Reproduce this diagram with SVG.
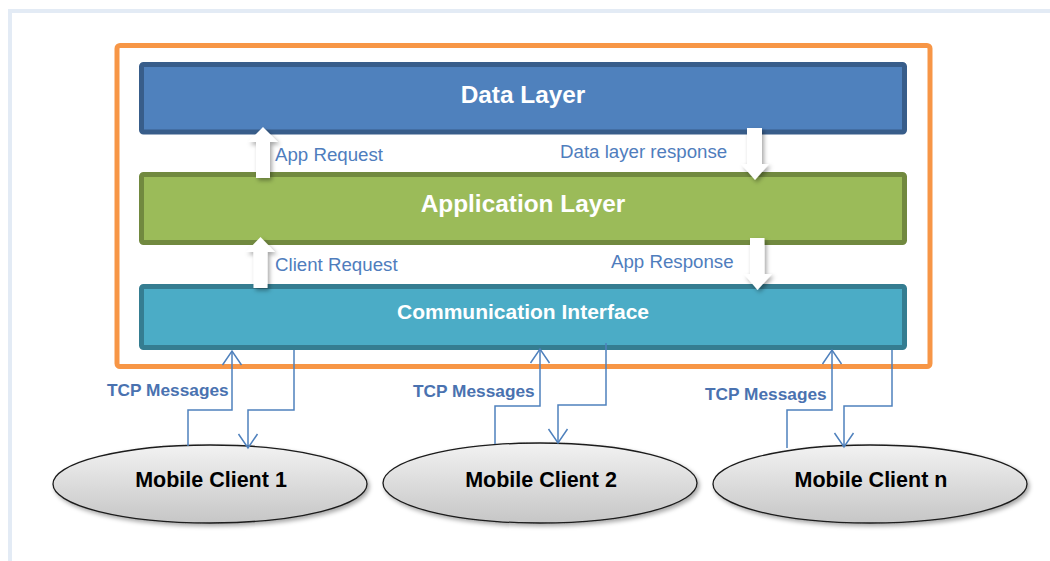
<svg xmlns="http://www.w3.org/2000/svg" width="1050" height="561" viewBox="0 0 1050 561">
  <defs>
    <style>
      .layer-title { font-family: "Liberation Sans", Arial, sans-serif; font-weight: bold; fill: #ffffff; text-anchor: middle; }
      .flow-label { font-family: "Liberation Sans", Arial, sans-serif; font-size: 18.7px; fill: #4f7dbd; }
      .tcp-label { font-family: "Liberation Sans", Arial, sans-serif; font-size: 17.3px; font-weight: bold; fill: #4a72b0; }
      .client-label { font-family: "Liberation Sans", Arial, sans-serif; font-size: 21.5px; font-weight: bold; fill: #000000; text-anchor: middle; }
      .block-arrow { fill: #ffffff; filter: url(#soft-shadow); }
      .tcp-line { fill: none; stroke: #4f81bd; stroke-width: 1.5; }
      .client-shape { fill: url(#client-fill); stroke: #1a1a1a; stroke-width: 1.3; filter: url(#soft-shadow); }
    </style>
    <linearGradient id="client-fill" x1="0" y1="0" x2="0" y2="1">
      <stop offset="0" stop-color="#f2f2f2"/>
      <stop offset="1" stop-color="#c6c6c6"/>
    </linearGradient>
    <filter id="soft-shadow" x="-20%" y="-20%" width="140%" height="150%">
      <feDropShadow dx="2" dy="2.5" stdDeviation="2" flood-color="#000000" flood-opacity="0.35"/>
    </filter>
    <marker id="open-head" viewBox="-16 -11 18 22" refX="0" refY="0" markerWidth="18" markerHeight="22" markerUnits="userSpaceOnUse" orient="auto" overflow="visible">
      <path d="M-14,-9.5 L0,0 L-14,9.5" fill="none" stroke="#4f81bd" stroke-width="1.5"/>
    </marker>
  </defs>

  <rect width="1050" height="561" fill="#ffffff"/>

  <!-- page edge band -->
  <path d="M10,561 V11 H1050" fill="none" stroke="#e3ebf5" stroke-width="4"/>

  <!-- server boundary -->
  <g id="server-frame">
    <rect x="117" y="45.5" width="813" height="321" rx="3" fill="none" stroke="#f79646" stroke-width="5"/>
  </g>

  <g id="data-layer">
    <rect x="141.5" y="64.5" width="763" height="67.5" rx="2" fill="#4f81bd" stroke="#385d8a" stroke-width="5"/>
    <text class="layer-title" x="523" y="103" font-size="24.4">Data Layer</text>
  </g>

  <g id="application-layer">
    <rect x="141.5" y="174.5" width="763" height="68" rx="2" fill="#9bbb59" stroke="#71893f" stroke-width="5"/>
    <text class="layer-title" x="523" y="212" font-size="24.4">Application Layer</text>
  </g>

  <g id="communication-interface">
    <rect x="141.5" y="286.5" width="763" height="61" rx="2" fill="#4bacc6" stroke="#357d91" stroke-width="5"/>
    <text class="layer-title" x="523" y="319" font-size="21">Communication Interface</text>
  </g>

  <g id="mobile-client-1">
    <ellipse class="client-shape" cx="210" cy="484" rx="157" ry="39"/>
    <text class="client-label" x="211" y="487">Mobile Client 1</text>
  </g>

  <g id="mobile-client-2">
    <ellipse class="client-shape" cx="540" cy="483" rx="157" ry="40"/>
    <text class="client-label" x="541" y="487">Mobile Client 2</text>
  </g>

  <g id="mobile-client-n">
    <ellipse class="client-shape" cx="870" cy="484" rx="157" ry="39"/>
    <text class="client-label" x="871" y="487">Mobile Client n</text>
  </g>

  <g id="connectors">
    <!-- requests going up -->
    <polygon class="block-arrow" points="263,127 278,142 270,142 270,178 256,178 256,142 248,142"/>
    <polygon class="block-arrow" points="260.5,237 275,252 267.5,252 267.5,288 253.5,288 253.5,252 246,252"/>
    <!-- responses going down -->
    <polygon class="block-arrow" points="747,128 762,128 762,164 769,164 755,180 741,164 747,164"/>
    <polygon class="block-arrow" points="750,238 764.5,238 764.5,274 772,274 757.5,290 744,274 750,274"/>

    <text class="flow-label" x="275" y="161">App Request</text>
    <text class="flow-label" x="275" y="271">Client Request</text>
    <text class="flow-label" x="560" y="158">Data layer response</text>
    <text class="flow-label" x="611" y="268">App Response</text>

    <!-- TCP links, client 1 -->
    <path class="tcp-line" d="M188,446 V410 H232 V351" marker-end="url(#open-head)"/>
    <path class="tcp-line" d="M294,350 V410 H248 V448" marker-end="url(#open-head)"/>
    <text class="tcp-label" x="107" y="396">TCP Messages</text>

    <!-- TCP links, client 2 -->
    <path class="tcp-line" d="M495,444 V406 H540 V349" marker-end="url(#open-head)"/>
    <path class="tcp-line" d="M606,343 V405 H558 V443" marker-end="url(#open-head)"/>
    <text class="tcp-label" x="413" y="397">TCP Messages</text>

    <!-- TCP links, client n -->
    <path class="tcp-line" d="M787,448 V410 H832 V350" marker-end="url(#open-head)"/>
    <path class="tcp-line" d="M892,350 V406 H844 V447" marker-end="url(#open-head)"/>
    <text class="tcp-label" x="705" y="400">TCP Messages</text>
  </g>
</svg>
